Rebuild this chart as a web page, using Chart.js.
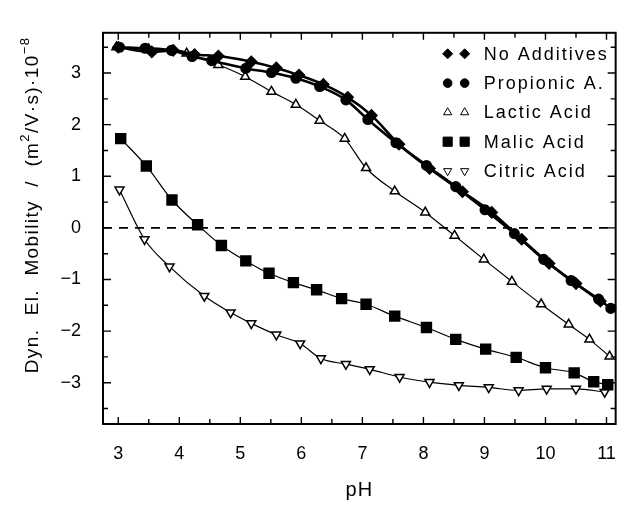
<!DOCTYPE html>
<html>
<head>
<meta charset="utf-8">
<script src="https://cdn.jsdelivr.net/npm/chart.js@4.4.1/dist/chart.umd.min.js"></script>
<style>
html, body { margin: 0; padding: 0; background: #fff; }
#chart { display: block; }
</style>
</head>
<body>
<canvas id="chart" width="635" height="508"></canvas>
<script>
// dyn. el. mobility vs pH, five additive series
var noAddPH  = [3.0, 3.55, 3.9, 4.25, 4.64, 5.18, 5.59, 5.96, 6.36, 6.76, 7.15, 7.6, 8.1, 8.64, 9.12, 9.61, 10.06, 10.5, 10.9];
var noAddMob = [3.50, 3.41, 3.44, 3.36, 3.33, 3.22, 3.10, 2.96, 2.78, 2.53, 2.18, 1.62, 1.15, 0.70, 0.30, -0.22, -0.69, -1.08, -1.42];

var propPH  = [3.02, 3.44, 3.87, 4.21, 4.53, 5.09, 5.51, 5.91, 6.30, 6.73, 7.09, 7.55, 8.05, 8.53, 9.01, 9.49, 9.97, 10.42, 10.87, 11.07];
var propMob = [3.50, 3.48, 3.44, 3.32, 3.24, 3.09, 3.01, 2.90, 2.74, 2.48, 2.10, 1.65, 1.21, 0.80, 0.35, -0.11, -0.61, -1.02, -1.38, -1.56];

var lacticPH  = [2.97, 3.5, 4.12, 4.64, 5.08, 5.51, 5.91, 6.30, 6.71, 7.06, 7.53, 8.03, 8.51, 8.99, 9.45, 9.93, 10.38, 10.72, 11.05];
var lacticMob = [3.50, 3.46, 3.38, 3.16, 2.93, 2.64, 2.39, 2.08, 1.73, 1.16, 0.71, 0.30, -0.15, -0.61, -1.04, -1.48, -1.87, -2.16, -2.49];

var malicPH  = [3.04, 3.46, 3.88, 4.30, 4.69, 5.09, 5.47, 5.87, 6.25, 6.66, 7.06, 7.53, 8.05, 8.53, 9.02, 9.52, 10.0, 10.47, 10.79, 11.02];
var malicMob = [1.73, 1.20, 0.54, 0.06, -0.34, -0.64, -0.88, -1.06, -1.20, -1.37, -1.48, -1.71, -1.93, -2.16, -2.35, -2.51, -2.71, -2.81, -2.98, -3.04];

var citricPH  = [3.02, 3.43, 3.84, 4.41, 4.84, 5.18, 5.59, 5.98, 6.32, 6.73, 7.12, 7.61, 8.10, 8.58, 9.07, 9.56, 10.02, 10.50, 10.97];
var citricMob = [0.74, -0.22, -0.75, -1.32, -1.64, -1.85, -2.07, -2.24, -2.53, -2.64, -2.74, -2.89, -2.99, -3.05, -3.09, -3.15, -3.12, -3.12, -3.18];

var legendNames = ['No Additives', 'Propionic A.', 'Lactic Acid', 'Malic Acid', 'Citric Acid'];
var xTicks = [3, 4, 5, 6, 7, 8, 9, 10, 11];
var yTicks = [-3, -2, -1, 0, 1, 2, 3];
var zeroLine = 0;

var FONT = '"Liberation Sans", Arial, Helvetica, sans-serif';

function pts(xs, ys) {
    return xs.map(function(x, i) { return { x: x, y: ys[i] }; });
}
function fmt(v) { return v < 0 ? '\u2212' + Math.abs(v) : String(v); }

var series = [
    { label: legendNames[0], data: pts(noAddPH, noAddMob), pointStyle: 'rectRot', pointRadius: 5.5, pointBackgroundColor: '#000', borderWidth: 2.6, pointRotation: 0 },
    { label: legendNames[1], data: pts(propPH, propMob), pointStyle: 'circle', pointRadius: 4.8, pointBackgroundColor: '#000', borderWidth: 2.6, pointRotation: 0 },
    { label: legendNames[2], data: pts(lacticPH, lacticMob), pointStyle: 'triangle', pointRadius: 5.2, pointBackgroundColor: '#fff', borderWidth: 1.2, pointRotation: 0 },
    { label: legendNames[3], data: pts(malicPH, malicMob), pointStyle: 'rect', pointRadius: 7, pointBackgroundColor: '#000', borderWidth: 1.2, pointRotation: 0 },
    { label: legendNames[4], data: pts(citricPH, citricMob), pointStyle: 'triangle', pointRadius: 5.2, pointBackgroundColor: '#fff', borderWidth: 1.2, pointRotation: 180 }
];

var datasets = series.map(function(s) {
    return {
        label: s.label,
        data: s.data,
        showLine: true,
        borderColor: '#000',
        borderWidth: s.borderWidth,
        cubicInterpolationMode: 'monotone',
        pointStyle: s.pointStyle,
        pointRadius: s.pointRadius,
        pointRotation: s.pointRotation,
        pointBackgroundColor: s.pointBackgroundColor,
        pointBorderColor: '#000',
        pointBorderWidth: 1.5,
        clip: 12
    };
});

// dashed zero line, inward ticks on all four sides and the frame
var framePlugin = {
    id: 'frame',
    beforeDatasetsDraw: function(chart) {
        var ctx = chart.ctx, a = chart.chartArea, ys = chart.scales.y;
        var py = ys.getPixelForValue(zeroLine);
        ctx.save();
        ctx.strokeStyle = '#000';
        ctx.lineWidth = 1.6;
        ctx.setLineDash([9, 7]);
        ctx.beginPath();
        ctx.moveTo(a.left, py);
        ctx.lineTo(a.right, py);
        ctx.stroke();
        ctx.restore();
    },
    afterDatasetsDraw: function(chart) {
        var ctx = chart.ctx, a = chart.chartArea, xs = chart.scales.x, ys = chart.scales.y;
        ctx.save();
        ctx.strokeStyle = '#000';
        ctx.lineWidth = 1.4;
        ctx.beginPath();
        var i, v, p, len;
        for (i = 0; i < xTicks.length * 2 - 1; i++) {
            v = xTicks[0] + i * 0.5;
            p = xs.getPixelForValue(v);
            len = (i % 2 === 0) ? 7 : 5;
            ctx.moveTo(p, a.bottom); ctx.lineTo(p, a.bottom - len);
            ctx.moveTo(p, a.top); ctx.lineTo(p, a.top + len);
        }
        for (i = 0; i < yTicks.length * 2 + 1; i++) {
            v = yTicks[0] - 0.5 + i * 0.5;
            p = ys.getPixelForValue(v);
            len = (i % 2 === 1) ? 8 : 5;
            ctx.moveTo(a.left, p); ctx.lineTo(a.left + len, p);
            ctx.moveTo(a.right, p); ctx.lineTo(a.right - len, p);
        }
        ctx.stroke();
        ctx.lineWidth = 2;
        ctx.strokeRect(a.left, a.top, a.right - a.left, a.bottom - a.top);
        ctx.restore();
    }
};

// legend with doubled markers, axis titles with superscripts
var textPlugin = {
    id: 'texts',
    afterDraw: function(chart) {
        var ctx = chart.ctx, a = chart.chartArea;
        ctx.save();
        ctx.fillStyle = '#000';
        ctx.textBaseline = 'middle';

        // legend
        ctx.font = '18px ' + FONT;
        ctx.letterSpacing = '2px';
        ctx.textAlign = 'left';
        chart.data.datasets.forEach(function(ds, i) {
            var y = a.top + 21 + i * 29.3;
            [a.right - 168, a.right - 151].forEach(function(mx) {
                ctx.fillStyle = ds.pointBackgroundColor;
                ctx.strokeStyle = '#000';
                Chart.helpers.drawPoint(ctx, {
                    pointStyle: ds.pointStyle,
                    radius: ds.pointStyle === 'rect' ? 6.5 : ds.pointRadius - 0.5,
                    rotation: ds.pointRotation,
                    borderWidth: 1.5
                }, mx, y);
            });
            ctx.fillStyle = '#000';
            ctx.fillText(ds.label, a.right - 132, y + 1);
        });

        // x title
        ctx.font = '20px ' + FONT;
        ctx.letterSpacing = '1px';
        ctx.textAlign = 'center';
        ctx.fillText('pH', (a.left + a.right) / 2, 490);

        // y title, rotated
        var runs = [
            { t: 'Dyn.  El.  Mobility  /  (m', sup: false },
            { t: '2', sup: true },
            { t: '/V\u00b7s)\u00b710', sup: false },
            { t: '\u22128', sup: true }
        ];
        ctx.translate(33, 205);
        ctx.rotate(-Math.PI / 2);
        ctx.textAlign = 'left';
        ctx.letterSpacing = '1.4px';
        var total = 0;
        runs.forEach(function(r) {
            ctx.font = (r.sup ? '13px ' : '19px ') + FONT;
            r.w = ctx.measureText(r.t).width;
            total += r.w;
        });
        var x = -total / 2;
        runs.forEach(function(r) {
            ctx.font = (r.sup ? '13px ' : '19px ') + FONT;
            ctx.fillText(r.t, x, r.sup ? -8 : 0);
            x += r.w;
        });
        ctx.restore();
    }
};

new Chart(document.getElementById('chart').getContext('2d'), {
    type: 'scatter',
    data: { datasets: datasets },
    options: {
        responsive: false,
        animation: false,
        devicePixelRatio: 1,
        layout: { padding: { top: 17, right: 6, left: 0, bottom: 0 } },
        plugins: { legend: { display: false }, tooltip: { enabled: false } },
        scales: {
            x: {
                type: 'linear',
                min: 2.75,
                max: 11.15,
                afterFit: function(s) { s.height = 84; },
                afterBuildTicks: function(s) { s.ticks = xTicks.map(function(v) { return { value: v }; }); },
                grid: { display: false, drawTicks: false },
                border: { display: false },
                ticks: { color: '#000', padding: 19, font: { family: FONT, size: 18 }, callback: fmt }
            },
            y: {
                type: 'linear',
                min: -3.8,
                max: 3.78,
                afterFit: function(s) { s.width = 103; },
                afterBuildTicks: function(s) { s.ticks = yTicks.map(function(v) { return { value: v }; }); },
                grid: { display: false, drawTicks: false },
                border: { display: false },
                ticks: { color: '#000', padding: 22, font: { family: FONT, size: 18 }, callback: fmt }
            }
        }
    },
    plugins: [framePlugin, textPlugin]
});
</script>
</body>
</html>
